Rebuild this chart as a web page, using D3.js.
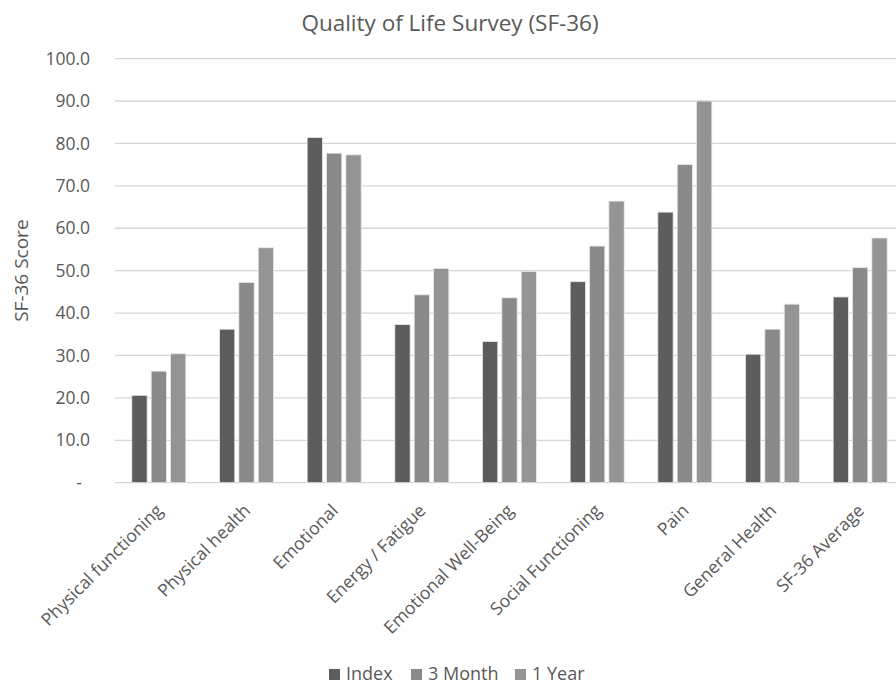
<!DOCTYPE html>
<html>
<head>
<meta charset="utf-8">
<script src="https://cdn.jsdelivr.net/npm/d3@7"></script>
<style>
  body { margin: 0; background: #fff; }
  text { font-family: "Open Sans", sans-serif; fill: #595959; }
</style>
</head>
<body>
<div id="chart"></div>
<script>
// Chart data
const categories = ["Physical functioning", "Physical health", "Emotional", "Energy / Fatigue",
  "Emotional Well-Being", "Social Functioning", "Pain", "General Health", "SF-36 Average"];
const seriesNames = ["Index", "3 Month", "1 Year"];
const indexValues = [20.6, 36.2, 81.4, 37.3, 33.3, 47.4, 63.8, 30.3, 43.8];
const month3Values = [26.3, 47.2, 77.7, 44.3, 43.6, 55.8, 75.0, 36.2, 50.7];
const year1Values = [30.4, 55.4, 77.3, 50.5, 49.8, 66.4, 90.0, 42.1, 57.7];
const yTicks = [0, 10, 20, 30, 40, 50, 60, 70, 80, 90, 100];

const colors = ["#5d5d5d", "#8a8a8a", "#949494"];
const seriesValues = [indexValues, month3Values, year1Values];

const width = 896;
const height = 685;
const margin = {top: 58.6, right: -8, bottom: 202.3, left: 115};

const svg = d3.select("#chart")
    .append("svg")
    .attr("width", width)
    .attr("height", height);

// Scales
const x0 = d3.scaleBand()
    .domain(categories)
    .range([margin.left, width - margin.right])
    .paddingInner(0.384)
    .paddingOuter(0.192);

const x1 = d3.scaleBand()
    .domain(seriesNames)
    .range([0, x0.bandwidth()])
    .paddingInner(0.21);

const y = d3.scaleLinear()
    .domain([0, 100])
    .range([height - margin.bottom, margin.top]);

// Gridlines
svg.append("g")
    .selectAll("line")
    .data(yTicks)
    .enter()
    .append("line")
    .attr("x1", margin.left)
    .attr("x2", width - margin.right)
    .attr("y1", d => y(d))
    .attr("y2", d => y(d))
    .attr("stroke", "#d6d6d6")
    .attr("stroke-width", 1.3);

// Y axis labels
const yAxis = svg.append("g")
    .attr("transform", `translate(${margin.left - 22},0)`)
    .call(d3.axisLeft(y).tickValues(yTicks).tickSize(0)
        .tickFormat(d => d === 0 ? "-" : d3.format(".1f")(d)));
yAxis.select(".domain").remove();
yAxis.selectAll("text")
    .attr("font-family", "Open Sans")
    .attr("font-size", 17.5)
    .attr("fill", "#595959")
    .attr("dx", d => d === 0 ? -8 : 0);

// Bars
const groups = svg.append("g")
    .selectAll("g")
    .data(categories)
    .enter()
    .append("g")
    .attr("transform", d => `translate(${x0(d)},0)`);

groups.selectAll("rect")
    .data((d, i) => seriesNames.map((s, j) => ({series: s, value: seriesValues[j][i], color: colors[j]})))
    .enter()
    .append("rect")
    .attr("x", d => x1(d.series))
    .attr("y", d => y(d.value))
    .attr("width", x1.bandwidth())
    .attr("height", d => y(0) - y(d.value))
    .attr("fill", d => d.color)
    .attr("stroke", "#e8e8e8")
    .attr("stroke-width", 0.8);

// X axis labels (rotated)
svg.append("g")
    .selectAll("text")
    .data(categories)
    .enter()
    .append("text")
    .attr("text-anchor", "end")
    .attr("font-size", 17.6)
    .attr("transform", d => `translate(${x0(d) + x0.bandwidth() / 2 + 5},${y(0) + 29}) rotate(-45)`)
    .text(d => d);

// Title
svg.append("text")
    .attr("x", 450)
    .attr("y", 31)
    .attr("text-anchor", "middle")
    .attr("font-size", 22.5)
    .text("Quality of Life Survey (SF-36)");

// Y axis title
svg.append("text")
    .attr("transform", `translate(28,${(y(0) + y(100)) / 2}) rotate(-90)`)
    .attr("text-anchor", "middle")
    .attr("font-size", 19)
    .text("SF-36 Score");

// Legend
const legendX = [329, 411, 515];
const legend = svg.append("g");
seriesNames.forEach((s, i) => {
    legend.append("rect")
        .attr("x", legendX[i])
        .attr("y", 669)
        .attr("width", 11)
        .attr("height", 11)
        .attr("fill", colors[i]);
    legend.append("text")
        .attr("x", legendX[i] + 17)
        .attr("y", 680)
        .attr("font-size", 18)
        .text(s);
});
</script>
</body>
</html>
